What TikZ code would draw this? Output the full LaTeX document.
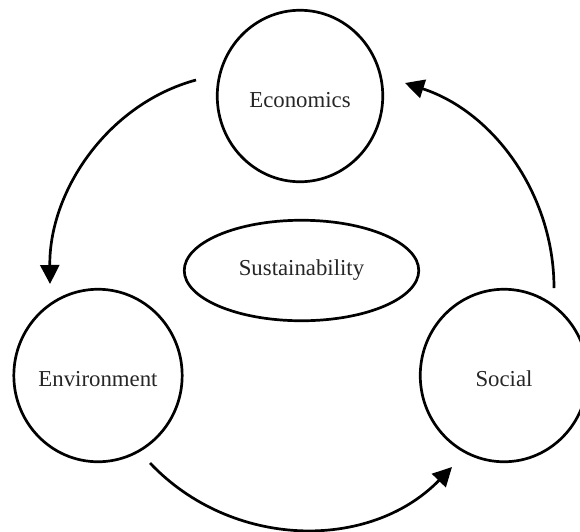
\documentclass[tikz,border=0pt]{standalone}
\usepackage{fontspec}
\setmainfont{Liberation Serif}
\usetikzlibrary{shapes.geometric,arrows.meta}
\begin{document}
\begin{tikzpicture}[x=1pt,y=-1pt,
  lbl/.style={font=\fontsize{22.8}{27}\selectfont, text=black!85},
  circ/.style={lbl, draw, line width=2.7pt, ellipse, inner sep=0pt,
    text height=22pt, text depth=0pt},
  flow/.style={line width=2.7pt, -{Triangle[length=19pt,width=19pt]}}]
\useasboundingbox (0,0) rectangle (580,531);
\node[circ, minimum width=165.5pt, minimum height=171.5pt] (eco) at (300,96) {Economics};
\node[circ, minimum width=167.5pt, minimum height=172.5pt] (env) at (98,375.5) {Environment};
\node[circ, minimum width=167.5pt, minimum height=172.5pt] (soc) at (504,375.5) {Social};
\node[lbl, draw, line width=2.7pt, ellipse, inner sep=0pt,
  minimum width=234.5pt, minimum height=100.5pt] (sus) at (301.5,270.5) {Sustainability};
\coordinate (a1s) at (196,80);
\coordinate (a1e) at (50,284);
\coordinate (a2s) at (150,463);
\coordinate (a2e) at (452,467);
\coordinate (a3s) at (554,288);
\coordinate (a3e) at (405,83);
\draw[flow] (a1s) .. controls (107.5,104) and (49,191.3) .. (a1e);
\draw[flow] (a2s) .. controls (231.3,549) and (369.5,551.8) .. (a2e);
\draw[flow] (a3s) .. controls (554,194.6) and (493.8,111.9) .. (a3e);
\end{tikzpicture}
\end{document}
